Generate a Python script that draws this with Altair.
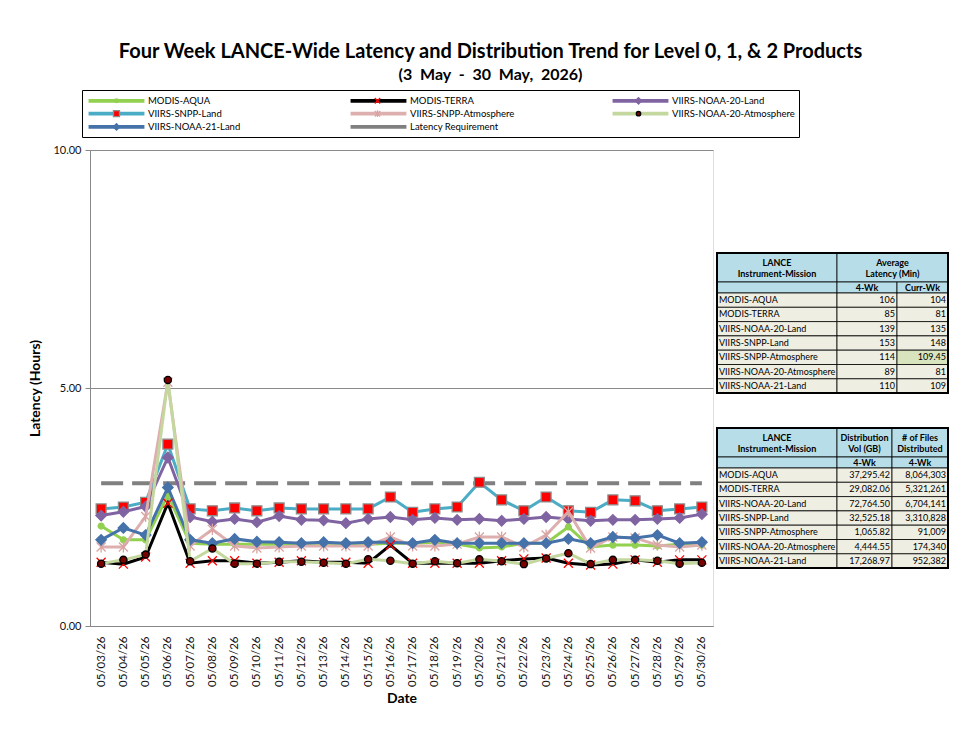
import altair as alt
import pandas as pd

FONT = "Lato"

# ---------------- data ----------------
dates = ["05/03/26", "05/04/26", "05/05/26", "05/06/26", "05/07/26", "05/08/26", "05/09/26",
         "05/10/26", "05/11/26", "05/12/26", "05/13/26", "05/14/26", "05/15/26", "05/16/26",
         "05/17/26", "05/18/26", "05/19/26", "05/20/26", "05/21/26", "05/22/26", "05/23/26",
         "05/24/26", "05/25/26", "05/26/26", "05/27/26", "05/28/26", "05/29/26", "05/30/26"]

series_names = ["MODIS-AQUA", "MODIS-TERRA", "VIIRS-NOAA-20-Land", "VIIRS-SNPP-Land",
                "VIIRS-SNPP-Atmosphere", "VIIRS-NOAA-20-Atmosphere", "VIIRS-NOAA-21-Land",
                "Latency Requirement"]

modis_aqua = [2.10, 1.81, 1.81, 2.75, 1.74, 1.72, 1.72, 1.72, 1.72, 1.72, 1.72, 1.72, 1.72, 1.74,
              1.74, 1.76, 1.72, 1.64, 1.66, 1.74, 1.74, 2.08, 1.66, 1.70, 1.70, 1.68, 1.72, 1.70]
modis_terra = [1.34, 1.30, 1.45, 2.58, 1.32, 1.37, 1.37, 1.32, 1.34, 1.37, 1.34, 1.34, 1.32, 1.70,
               1.32, 1.32, 1.32, 1.32, 1.37, 1.41, 1.43, 1.32, 1.28, 1.30, 1.39, 1.34, 1.39, 1.39]
noaa20_land = [2.32, 2.40, 2.51, 3.54, 2.29, 2.19, 2.25, 2.18, 2.31, 2.23, 2.22, 2.16, 2.25, 2.29,
               2.23, 2.27, 2.23, 2.25, 2.21, 2.25, 2.29, 2.25, 2.21, 2.23, 2.23, 2.25, 2.27, 2.35]
snpp_land = [2.46, 2.50, 2.60, 3.82, 2.46, 2.42, 2.48, 2.42, 2.48, 2.46, 2.46, 2.46, 2.46, 2.71,
             2.39, 2.46, 2.50, 3.02, 2.65, 2.42, 2.71, 2.42, 2.39, 2.65, 2.63, 2.42, 2.46, 2.50]
snpp_atmos = [1.66, 1.66, 2.30, 5.12, 1.68, 2.03, 1.68, 1.64, 1.66, 1.68, 1.68, 1.68, 1.68, 1.87,
              1.68, 1.68, 1.72, 1.87, 1.87, 1.66, 1.91, 2.40, 1.64, 1.87, 1.85, 1.70, 1.66, 1.70]
noaa20_atmos = [1.31, 1.39, 1.50, 5.17, 1.36, 1.63, 1.31, 1.31, 1.35, 1.35, 1.33, 1.31, 1.40, 1.37,
                1.31, 1.36, 1.32, 1.40, 1.36, 1.30, 1.42, 1.53, 1.30, 1.39, 1.39, 1.37, 1.31, 1.33]
noaa21_land = [1.81, 2.06, 1.91, 2.91, 1.81, 1.74, 1.83, 1.77, 1.76, 1.74, 1.76, 1.74, 1.76, 1.76,
               1.74, 1.81, 1.74, 1.74, 1.74, 1.74, 1.74, 1.83, 1.74, 1.87, 1.85, 1.91, 1.74, 1.76]
latency_requirement = 3.0

series_values = {
    "MODIS-AQUA": modis_aqua,
    "MODIS-TERRA": modis_terra,
    "VIIRS-NOAA-20-Land": noaa20_land,
    "VIIRS-SNPP-Land": snpp_land,
    "VIIRS-SNPP-Atmosphere": snpp_atmos,
    "VIIRS-NOAA-20-Atmosphere": noaa20_atmos,
    "VIIRS-NOAA-21-Land": noaa21_land,
    "Latency Requirement": [latency_requirement] * len(dates),
}

# table data
tbl_names = ["MODIS-AQUA", "MODIS-TERRA", "VIIRS-NOAA-20-Land", "VIIRS-SNPP-Land",
             "VIIRS-SNPP-Atmosphere", "VIIRS-NOAA-20-Atmosphere", "VIIRS-NOAA-21-Land"]
lat_4wk = [106, 85, 139, 153, 114, 89, 110]
lat_curr = [104, 81, 135, 148, 109.45, 81, 109]
dist_vol = [37295.42, 29082.06, 72764.50, 32525.18, 1065.82, 4444.55, 17268.97]
dist_files = [8064303, 5321261, 6704141, 3310828, 91009, 174340, 952382]

# ---------------- styles ----------------
line_colors = ["#92D050", "#000000", "#8064A2", "#4BACC6", "#DDAFAE", "#C4D79F", "#4672AA", "#808080"]
# invisible zero-length sub-paths give every legend symbol the same bounding box
BOX = "M-5.1,-0.6L-5.1,-0.6M5.1,0.6L5.1,0.6"
marker_names = series_names[:7]
marker_paths = [
    "M0.33,0A0.33,0.33 0 1,1 -0.33,0A0.33,0.33 0 1,1 0.33,0Z" + BOX,
    "M-0.5,-0.5L0.5,0.5M-0.5,0.5L0.5,-0.5" + BOX,
    "M0,-0.58L0.58,0L0,0.58L-0.58,0Z" + BOX,
    "M-0.55,-0.55H0.55V0.55H-0.55Z" + BOX,
    "M-0.5,-0.5L0.5,0.5M-0.5,0.5L0.5,-0.5M0,-0.62L0,0.62" + BOX,
    "M0.4,0A0.4,0.4 0 1,1 -0.4,0A0.4,0.4 0 1,1 0.4,0Z" + BOX,
    "M0,-0.58L0.58,0L0,0.58L-0.58,0Z" + BOX,
]
marker_fills = ["#92D050", "transparent", "#8064A2", "#FF0000", "transparent", "#7A0000", "#4672AA"]
marker_strokes = ["#92D050", "#FF0000", "#8064A2", "#8C8C8C", "#D9A3A1", "#000000", "#4672AA"]
draw_order = ["Latency Requirement", "VIIRS-SNPP-Land", "VIIRS-NOAA-20-Land", "MODIS-AQUA",
              "VIIRS-SNPP-Atmosphere", "VIIRS-NOAA-21-Land", "MODIS-TERRA", "VIIRS-NOAA-20-Atmosphere"]

W, H = 623, 476

xscale = alt.Scale(type="point", domain=dates, padding=0.5)
yscale = alt.Scale(domain=[0, 10], nice=False, zero=True)
xaxis = alt.Axis(title="Date", labelAngle=270, labelFont=FONT, labelFontSize=11.5, labelColor="#111",
                 labelPadding=10, ticks=False, domainColor="#888", titleFont=FONT, titleFontSize=14,
                 titleFontWeight="bold", titleColor="black", titlePadding=5, grid=False)
yaxis = alt.Axis(title="Latency (Hours)", values=[0, 5, 10], format=".2f", labelFont=FONT,
                 labelFontSize=11, labelColor="#111", tickColor="#888", tickSize=5, domainColor="#888",
                 gridColor="#8a8a8a", titleFont=FONT, titleFontSize=14, titleFontWeight="bold",
                 titleColor="black", titlePadding=10, labelPadding=4)

LEG_X, LEG_Y = -8, -60
COL_PAD = 76
WIDEST_LABEL = 122  # approx. pixel width of the widest legend label
common_leg = dict(orient="none", legendX=LEG_X, legendY=LEG_Y, columns=3, direction="horizontal",
                  title=None, symbolSize=120, symbolOffset=24, labelOffset=25, labelFont=FONT,
                  labelFontSize=9.5, labelColor="black", rowPadding=0.2, padding=4, gridAlign="all",
                  symbolOpacity=1, symbolStrokeWidth=1.3)
line_legend = alt.Legend(symbolType="M-5.1,-0.22L5.1,-0.22M-5.1,0L5.1,0M-5.1,0.22L5.1,0.22" + BOX,
                         strokeColor="black", columnPadding=COL_PAD, **common_leg)
marker_legend = alt.Legend(labelExpr="''", columnPadding=COL_PAD + WIDEST_LABEL, **common_leg)

color_scale = alt.Scale(domain=series_names, range=line_colors)

layers = []
for name in draw_order:
    df = pd.DataFrame({"date": dates, "value": series_values[name], "series": name})
    base = alt.Chart(df)
    enc = dict(x=alt.X("date:O", scale=xscale, axis=xaxis, sort=dates),
               y=alt.Y("value:Q", scale=yscale, axis=yaxis))
    if name == "Latency Requirement":
        ln = base.mark_line(strokeWidth=4, strokeDash=[22, 9]).encode(
            color=alt.Color("series:N", scale=color_scale, legend=line_legend), **enc)
        layers.append(ln)
        continue
    ln = base.mark_line(strokeWidth=3).encode(
        color=alt.Color("series:N", scale=color_scale, legend=line_legend), **enc)
    pt = base.mark_point(size=324, strokeWidth=1.3, opacity=1).encode(
        shape=alt.Shape("series:N", scale=alt.Scale(domain=marker_names, range=marker_paths),
                        legend=marker_legend),
        fill=alt.Fill("series:N", scale=alt.Scale(domain=marker_names, range=marker_fills),
                      legend=marker_legend),
        stroke=alt.Stroke("series:N", scale=alt.Scale(domain=marker_names, range=marker_strokes),
                          legend=marker_legend),
        **enc)
    layers += [ln, pt]

main = alt.layer(*layers)

# ---------------- tables ----------------
COLS1 = [0, 120, 180, 231]
COLS2 = [0, 120, 175, 231]
HEAD_H, SUB_H, ROW_H = 29, 11, 14.3
T_TOPS = [0, 175]
LINE_H = 11
BLUE, BEIGE, GREEN = "#B7DEE8", "#EEEEE2", "#D7E4BD"

cells, heads, names_txt, nums_txt, frames = [], [], [], [], []


def fmt_lat(v):
    return f"{v:g}"


tables = [
    (COLS1, ["LANCE\nInstrument-Mission", "Average\nLatency (Min)"], ["", "4-Wk", "Curr-Wk"],
     [[fmt_lat(v) for v in lat_4wk], [fmt_lat(v) for v in lat_curr]], True),
    (COLS2, ["LANCE\nInstrument-Mission", "Distribution\nVol (GB)", "# of Files\nDistributed"],
     ["", "4-Wk", "4-Wk"],
     [[f"{v:,.2f}" for v in dist_vol], [f"{v:,}" for v in dist_files]], False),
]
for (cols, hdr, sub, numcols, span), top in zip(tables, T_TOPS):
    y_h0, y_h1 = top, top + HEAD_H
    y_s1 = y_h1 + SUB_H
    if span:
        hspans = [(cols[0], cols[1]), (cols[1], cols[3])]
    else:
        hspans = [(cols[0], cols[1]), (cols[1], cols[2]), (cols[2], cols[3])]
    for (a, b), t in zip(hspans, hdr):
        cells.append(dict(x=a, x2=b, y=y_h0, y2=y_h1, fill=BLUE))
        heads.append(dict(x=(a + b) / 2, y=(y_h0 + y_h1) / 2 - LINE_H / 2 + 0.5, text=t))
    for i, t in enumerate(sub):
        a, b = cols[i], cols[i + 1]
        cells.append(dict(x=a, x2=b, y=y_h1, y2=y_s1, fill=BLUE))
        heads.append(dict(x=(a + b) / 2, y=(y_h1 + y_s1) / 2 + 0.5, text=t))
    for r, nm in enumerate(tbl_names):
        r0 = y_s1 + r * ROW_H
        r1 = r0 + ROW_H
        cells.append(dict(x=cols[0], x2=cols[1], y=r0, y2=r1, fill=BEIGE))
        names_txt.append(dict(x=cols[0] + 2, y=(r0 + r1) / 2, text=nm))
        for c in range(2):
            a, b = cols[c + 1], cols[c + 2]
            fill = GREEN if (span and c == 1 and nm == "VIIRS-SNPP-Atmosphere") else BEIGE
            cells.append(dict(x=a, x2=b, y=r0, y2=r1, fill=fill))
            nums_txt.append(dict(x=b - 2, y=(r0 + r1) / 2, text=numcols[c][r]))
    frames.append(dict(x=cols[0], x2=cols[3], y=top, y2=y_s1 + 7 * ROW_H))

tx = alt.Scale(domain=[0, 231], range=[627, 858], nice=False, zero=False)
ty = alt.Scale(domain=[0, 315], range=[103, 418], nice=False, zero=False)


def pos(extra2=True):
    d = dict(x=alt.X("x:Q", scale=tx, axis=None), y=alt.Y("y:Q", scale=ty, axis=None))
    if extra2:
        d.update(x2="x2:Q", y2="y2:Q")
    return d


cell_layer = alt.Chart(pd.DataFrame(cells)).mark_rect(stroke="black", strokeWidth=0.8).encode(
    fill=alt.Fill("fill:N", scale=None), **pos())
frame_layer = alt.Chart(pd.DataFrame(frames)).mark_rect(fill=None, stroke="black", strokeWidth=2).encode(
    **pos())
head_layer = alt.Chart(pd.DataFrame(heads)).mark_text(
    font=FONT, fontSize=9, fontWeight="bold", align="center", baseline="middle", lineBreak="\n",
    lineHeight=LINE_H, color="black").encode(text="text:N", **pos(False))
name_layer = alt.Chart(pd.DataFrame(names_txt)).mark_text(
    font=FONT, fontSize=9, align="left", baseline="middle", color="black").encode(
    text="text:N", **pos(False))
num_layer = alt.Chart(pd.DataFrame(nums_txt)).mark_text(
    font=FONT, fontSize=9, align="right", baseline="middle", color="black").encode(
    text="text:N", **pos(False))

tables_chart = alt.layer(cell_layer, frame_layer, head_layer, name_layer, num_layer)

chart = alt.layer(main, tables_chart).resolve_scale(
    x="independent", y="independent", color="independent", fill="independent",
    stroke="independent", shape="independent"
).properties(
    width=W, height=H,
    padding={"left": 90, "top": 150, "right": 259, "bottom": 103},
    autosize=alt.AutoSizeParams(type="none"),
    title=alt.TitleParams(
        text="Four Week LANCE-Wide Latency and Distribution Trend for Level 0, 1, & 2 Products",
        subtitle="(3\u00a0 May\u00a0 -\u00a0 30\u00a0 May,\u00a0 2026)", font=FONT, fontSize=20,
        fontWeight="bold", color="black",
        subtitleFont=FONT, subtitleFontSize=16, subtitleFontWeight="bold", subtitleColor="black",
        anchor="middle", dx=89, offset=7, subtitlePadding=5),
).configure_view(stroke="#6a6a6a", strokeWidth=1.2).configure(background="white")

chart.save("out.html", embed_options={"renderer": "svg", "actions": False})
